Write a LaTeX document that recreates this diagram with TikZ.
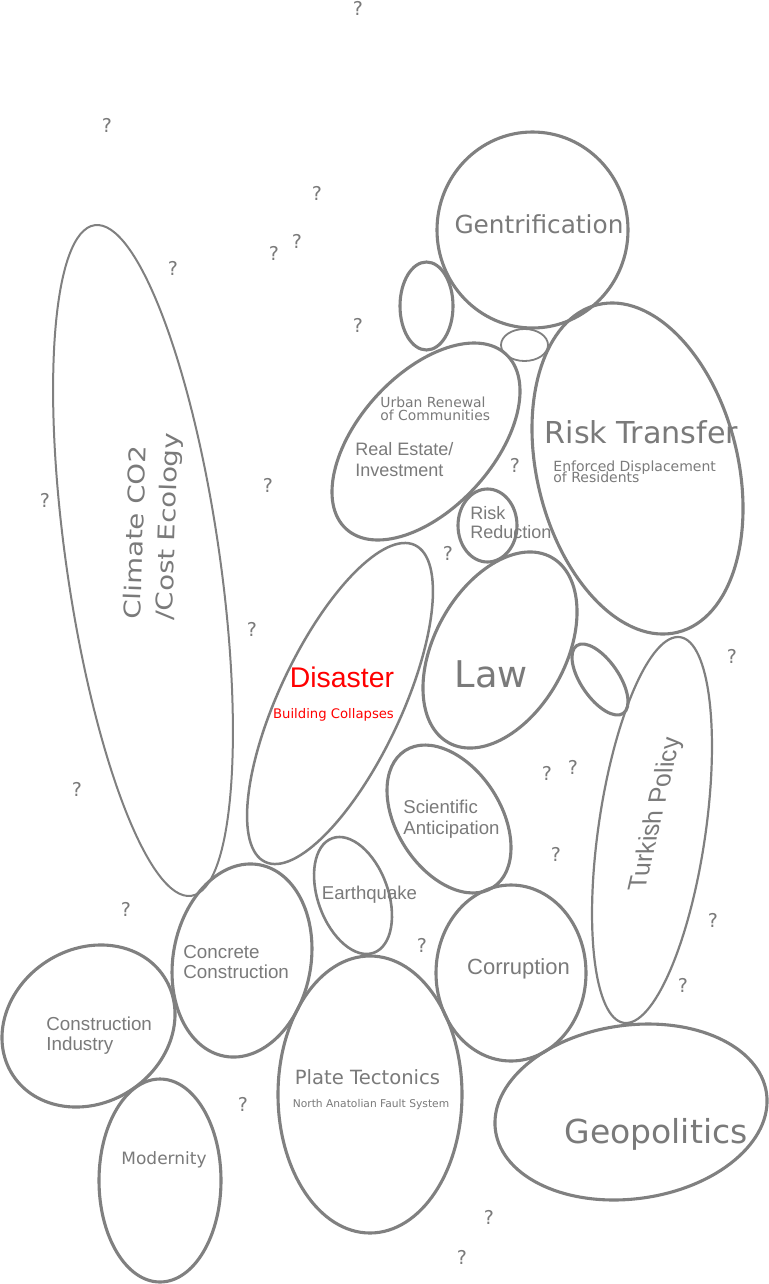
\documentclass[tikz,border=0pt]{standalone}
\usepackage{fontspec}
\setmainfont{DejaVu Sans}
\newfontfamily\arialfont{Liberation Sans}
\definecolor{linegray}{HTML}{808080}
\definecolor{txtgray}{HTML}{7A7A7A}
\definecolor{disred}{HTML}{FF0000}
\newcommand\fsz[2]{\fontsize{#1}{#2}\selectfont\lineskiplimit=-100pt\relax}
\newcommand\bub[6][]{\draw[bubble,#1,rotate around={#6:(#2,#3)}] (#2,#3) ellipse [x radius={#4*0.5pt}, y radius={#5*0.5pt}];}
\tikzset{
  bubble/.style={draw=linegray, line width=1.55pt},
  lbl/.style={text=txtgray, inner sep=0pt},
  qm/.style={text=txtgray, inner sep=0pt, font=\fsz{9.5}{10}},
}
\begin{document}
\begin{tikzpicture}[x=0.5pt, y=-0.5pt]
\useasboundingbox (0,0) rectangle (768,1284);
\fill[white] (0,0) rectangle (768,1284);
% bubbles
\bub{532.5}{230}{95.5}{98}{0}
\bub{426.5}{306}{26.5}{44}{0}
\bub[line width=0.9pt]{524.5}{345}{23.5}{16}{0}
\bub{426}{441.5}{118.4}{67.2}{47.6}
\bub{637.5}{468.5}{168.6}{100.5}{-76.3}
\bub{487.5}{525.5}{29.5}{36.5}{0}
\bub[line width=1pt]{143}{560.5}{338.8}{76.6}{98.2}
\bub[line width=1.25pt]{340}{703.5}{175.2}{60.9}{64.7}
\bub{500}{650}{106}{65.6}{61}
\bub{600}{679.5}{41.1}{18.9}{-55.5}
\bub[line width=1.1pt]{652}{830}{194.9}{53.5}{81.7}
\bub{449}{819}{81.3}{52}{-57.3}
\bub[line width=1.3pt]{353}{895.5}{60.9}{35.1}{-70.1}
\bub{242}{960.5}{97.3}{68.9}{79.8}
\bub{88.5}{1026}{90.2}{76.9}{32.8}
\bub{160}{1180.5}{61}{101.5}{0}
\bub{370}{1094.5}{92}{138.5}{0}
\bub{511}{973}{75}{88}{0}
\bub{631}{1112}{136.8}{86.8}{7.8}
% labels
\node[lbl, anchor=base, font=\fsz{12.4}{14}] (gent) at (539,233) {Gentrification};
\node[lbl, anchor=base, font=\fsz{15.1}{17}] (risktr) at (641.5,443) {Risk Transfer};
\node[lbl, anchor=north west, align=left, font=\fsz{7}{5.5}] (enforced) at (553,460.5) {Enforced Displacement\\of Residents};
\node[lbl, anchor=north west, align=left, font=\fsz{6.95}{6.4}] (urban) at (380,397) {Urban Renewal\\of Communities};
\node[lbl, anchor=north west, align=left, font=\arialfont\fsz{9}{10.5}] (realest) at (355,442) {Real Estate/\\Investment};
\node[lbl, anchor=north west, align=left, font=\arialfont\fsz{9}{9.5}] (riskred) at (470,506) {Risk\\Reduction};
\node[lbl, anchor=base, font=\fsz{18.4}{20}] (law) at (491.5,687) {Law};
\node[lbl, anchor=base, text=disred, font=\arialfont\fsz{14.2}{16}] (disaster) at (342,687) {Disaster};
\node[lbl, anchor=base, text=disred, font=\fsz{6.6}{8}] (collapse) at (333.5,718) {Building Collapses};
\node[lbl, anchor=north west, align=left, font=\arialfont\fsz{9.3}{10.5}] (scient) at (403,800) {Scientific\\Anticipation};
\node[lbl, anchor=base, font=\arialfont\fsz{9.3}{11}] (quake) at (369.5,899) {Earthquake};
\node[lbl, anchor=north west, align=left, font=\arialfont\fsz{9.4}{10}] (concrete) at (183,945) {Concrete\\Construction};
\node[lbl, anchor=north west, align=left, font=\arialfont\fsz{9.4}{10}] (constr) at (46,1016) {Construction\\Industry};
\node[lbl, anchor=base, font=\fsz{8.5}{10}] (modern) at (164,1164) {Modernity};
\node[lbl, anchor=base, font=\fsz{9.8}{11}] (plate) at (367.5,1084) {Plate Tectonics};
\node[lbl, anchor=base, font=\fsz{5.35}{6}] (naf) at (371,1107) {North Anatolian Fault System};
\node[lbl, anchor=base, font=\arialfont\fsz{11}{13}] (corrupt) at (518.5,974) {Corruption};
\node[lbl, anchor=base, font=\fsz{16.5}{19}] (geo) at (656,1143) {Geopolitics};
\node[lbl, cm={0.225,0.974,-1,0,(0,0)}, font=\arialfont\fsz{12.7}{14}] (turkish) at (656,814) {Turkish Policy};
\node[lbl, rotate=88, xscale=1.2, align=left, font=\fsz{11.5}{16}] (climate) at (153,526) {Climate CO2\\/Cost Ecology};
% question marks
\node[qm] (q1) at (358,8) {?};
\node[qm] (q2) at (107,125) {?};
\node[qm] (q3) at (317,193) {?};
\node[qm] (q4) at (297,241) {?};
\node[qm] (q5) at (274,253) {?};
\node[qm] (q6) at (173,268) {?};
\node[qm] (q7) at (358,325) {?};
\node[qm] (q8) at (515,465) {?};
\node[qm] (q9) at (268,485) {?};
\node[qm] (q10) at (45,500) {?};
\node[qm] (q11) at (448,553) {?};
\node[qm] (q12) at (252,629) {?};
\node[qm] (q13) at (732,656) {?};
\node[qm] (q14) at (547,773) {?};
\node[qm] (q15) at (573,767) {?};
\node[qm] (q16) at (556,854) {?};
\node[qm] (q17) at (77,789) {?};
\node[qm] (q18) at (126,909) {?};
\node[qm] (q19) at (713,920) {?};
\node[qm] (q20) at (422,945) {?};
\node[qm] (q21) at (683,985) {?};
\node[qm] (q22) at (243,1104) {?};
\node[qm] (q23) at (489,1217) {?};
\node[qm] (q24) at (462,1257) {?};
\end{tikzpicture}
\end{document}
